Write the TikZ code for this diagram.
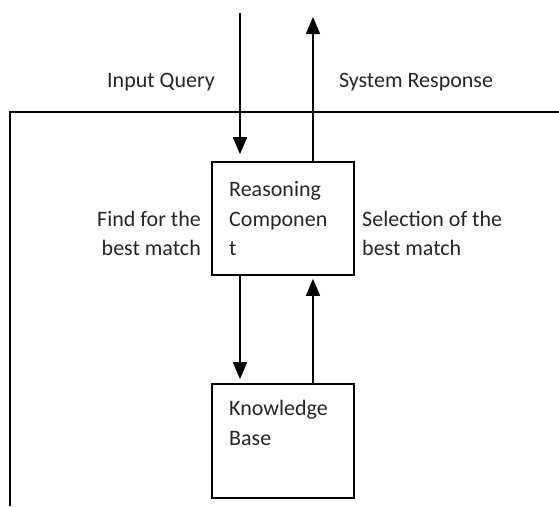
\documentclass[tikz,border=0pt]{standalone}
\usepackage{fontspec}
\setmainfont{Carlito}
\usetikzlibrary{arrows.meta}
\tikzset{
  boxnode/.style={draw, line width=1.6pt, minimum width=142pt, inner sep=0pt},
  lbl/.style={inner sep=0pt, font=\fontsize{22pt}{29pt}\selectfont, text=black!85},
  arr/.style={line width=1.6pt, -{Triangle[width=14pt,length=17pt]}},
}
\begin{document}
\begin{tikzpicture}[x=1pt,y=-1pt]
\useasboundingbox (0,0) rectangle (559,506);
% outer frame
\draw[line width=1.6pt] (559,112) -- (10,112) -- (10,506);
% boxes
\node[boxnode, minimum height=113pt] (rc) at (283,218.5) {};
\node[boxnode, minimum height=114pt] (kb) at (283,441) {};
% free ends
\coordinate (qin) at (240,13);
\coordinate (rout) at (313,17);
% arrows
\draw[arr, shorten >=7pt] (qin) -- (qin |- rc.north);
\draw[arr] (rc.north -| rout) -- (rout);
\draw[arr, shorten >=4pt] (rc.south -| qin) -- (kb.north -| qin);
\draw[arr, shorten >=3pt] (kb.north -| rout) -- (rc.south -| rout);
% labels
\node[lbl, anchor=base] (liq) at (161,87) {Input Query};
\node[lbl, anchor=base] (lsr) at (416,87) {System Response};
\node[lbl, anchor=base west] (r1) at (229,196) {Reasoning};
\node[lbl, anchor=base west] (r2) at (229,226) {Componen};
\node[lbl, anchor=base west] (r3) at (229,255) {t};
\node[lbl, anchor=base east] (f1) at (201,226) {Find for the};
\node[lbl, anchor=base east] (f2) at (201,255) {best match};
\node[lbl, anchor=base west] (s1) at (362,226) {Selection of the};
\node[lbl, anchor=base west] (s2) at (362,255) {best match};
\node[lbl, anchor=base west] (k1) at (229,415) {Knowledge};
\node[lbl, anchor=base west] (k2) at (229,445) {Base};
\end{tikzpicture}
\end{document}
